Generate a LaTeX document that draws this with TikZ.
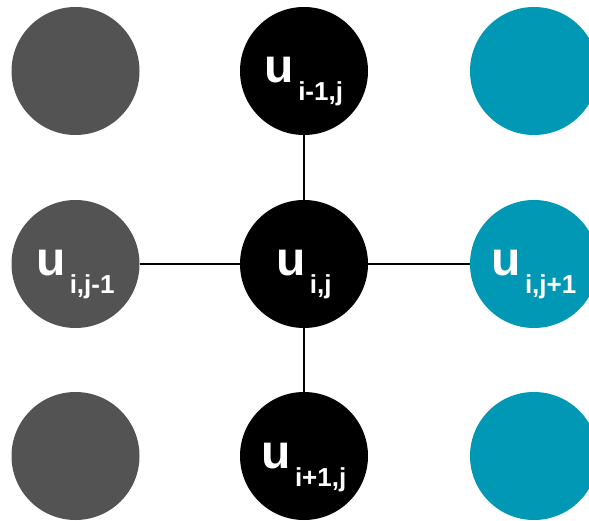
\documentclass[tikz,border=0pt]{standalone}
\usepackage{fontspec}
\setmainfont{Liberation Sans}
\definecolor{gridgray}{HTML}{535353}
\definecolor{gridteal}{HTML}{0098B4}
\newcommand{\gridlabel}[1]{{\bfseries\fontsize{48}{48}\selectfont u}\hspace{4pt}%
  \raisebox{-18pt}{\bfseries\fontsize{26}{26}\selectfont #1}}
\begin{document}
\begin{tikzpicture}[x=1pt,y=-1pt,
  dot/.style={circle,minimum size=128pt,inner sep=0pt,draw=none},
  darkdot/.style={dot,fill=gridgray},
  blackdot/.style={dot,fill=black},
  tealdot/.style={dot,fill=gridteal},
  lbl/.style={text=white,anchor=base,inner sep=0pt,yshift=-12pt,xshift=0pt},
  link/.style={draw=black,line width=2.7pt}]
\useasboundingbox (0,0) rectangle (589,521);
\clip (0,0) rectangle (589,521);
% grid points: left column grey, middle black, right teal
\node[darkdot]  (tl) at (75.5,71)  {};
\node[darkdot]  (ml) at (75.5,264) {};
\node[darkdot]  (bl) at (75.5,456) {};
\node[blackdot] (tc) at (304,71)   {};
\node[blackdot] (mc) at (304,264)  {};
\node[blackdot] (bc) at (304,456)  {};
\node[tealdot]  (tr) at (534,71)   {};
\node[tealdot]  (mr) at (534,264)  {};
\node[tealdot]  (br) at (534,456)  {};
% five-point stencil connections
\draw[link] (ml) -- (mc);
\draw[link] (mc) -- (mr);
\draw[link] (tc) -- (mc);
\draw[link] (mc) -- (bc);
% labels
\node[lbl] (ltc) at (tc.center) {\gridlabel{i-1,j}};
\node[lbl] (lml) at (ml.center) {\gridlabel{i,j-1}};
\node[lbl] (lmc) at (mc.center) {\gridlabel{i,j}};
\node[lbl] (lmr) at (mr.center) {\gridlabel{i,j+1}};
\node[lbl] (lbc) at (bc.center) {\gridlabel{i+1,j}};
\end{tikzpicture}
\end{document}
